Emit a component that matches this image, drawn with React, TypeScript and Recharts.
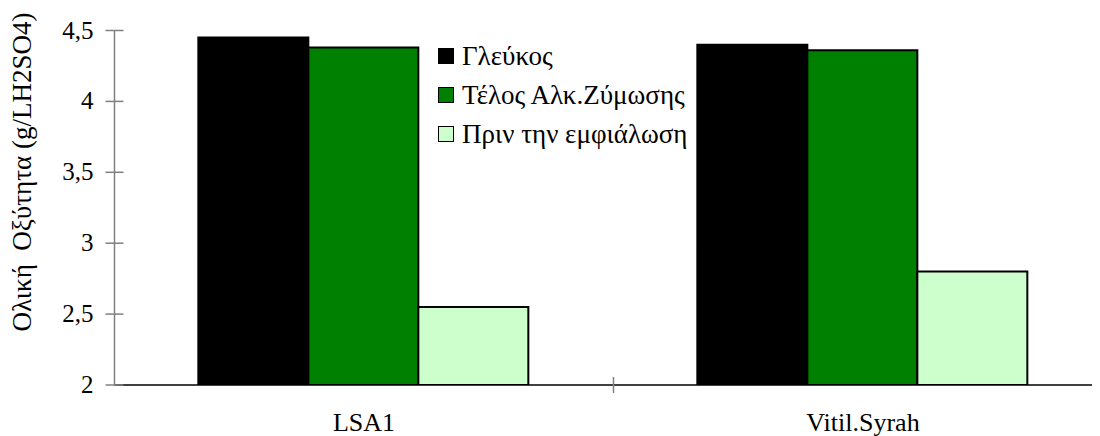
import { BarChart, Bar, XAxis, YAxis, Legend } from "recharts";

const categories = ["LSA1", "Vitil.Syrah"];
const glefkos = [4.45, 4.4];
const telosZymosis = [4.38, 4.36];
const prinEmfialosi = [2.55, 2.8];
const yTicks = [2, 2.5, 3, 3.5, 4, 4.5];

const seriesNames = ["Γλεύκος", "Τέλος Αλκ.Ζύμωσης", "Πριν την εμφιάλωση"];
const seriesColors = ["#000000", "#008000", "#CCFFCC"];

const data = categories.map((name, i) => ({
  name,
  s0: glefkos[i],
  s1: telosZymosis[i],
  s2: prinEmfialosi[i],
}));

const FONT = "'Times New Roman', 'Liberation Serif', 'DejaVu Serif', serif";
const AXIS_X = 106.5;
const PLOT_W = 998;

function YTick(props: any) {
  const { y, payload } = props;
  return (
    <g>
      <line x1={AXIS_X - 9} x2={AXIS_X + 9} y1={y} y2={y} stroke="#808080" strokeWidth={1.5} />
      <text x={AXIS_X - 21} y={y} dy={8} textAnchor="end" fontSize={25} style={{ fontFamily: FONT }} fill="#000">
        {String(payload.value).replace(".", ",")}
      </text>
    </g>
  );
}

function XTick(props: any) {
  const { x, y, payload, index } = props;
  const half = PLOT_W / categories.length / 2;
  return (
    <g>
      {index === 0 && (
        <line x1={x + half} x2={x + half} y1={y - 8} y2={y + 8} stroke="#808080" strokeWidth={1.5} />
      )}
      <text x={x} y={y} dy={46} textAnchor="middle" fontSize={26} style={{ fontFamily: FONT }} fill="#000">
        {payload.value}
      </text>
    </g>
  );
}

function LegendBox() {
  return (
    <div style={{ fontFamily: FONT, fontSize: 27, color: "#000", whiteSpace: "nowrap" }}>
      {seriesNames.map((n, i) => (
        <div key={n} style={{ display: "flex", alignItems: "center", height: 39 }}>
          <span
            style={{
              display: "inline-block",
              width: 14,
              height: 14,
              background: seriesColors[i],
              border: "1.5px solid #000",
              marginRight: 8,
            }}
          />
          <span>{n}</span>
        </div>
      ))}
    </div>
  );
}

export default function App() {
  return (
    <div style={{ width: 1092, height: 428, overflow: "hidden", fontFamily: FONT }}>
      <BarChart
        width={AXIS_X + PLOT_W}
        height={428}
        data={data}
        margin={{ top: 22.5, right: 0, bottom: 6, left: 0 }}
        barCategoryGap="16.8%"
        barGap={0}
      >
        <XAxis
          dataKey="name"
          height={45}
          axisLine={{ stroke: "#000", strokeWidth: 1.5 }}
          tickLine={false}
          tickSize={0}
          tickMargin={0}
          tick={<XTick />}
          interval={0}
        />
        <YAxis
          width={AXIS_X}
          domain={[2, 4.5]}
          ticks={yTicks}
          allowDataOverflow
          axisLine={{ stroke: "#808080", strokeWidth: 1.5 }}
          tickLine={false}
          tick={<YTick />}
          label={{
            content: () => (
              <text
                transform="translate(23,164) rotate(-90)"
                textAnchor="middle"
                fontSize={27}
                fill="#000"
                style={{ whiteSpace: "pre", fontFamily: FONT }}
              >
                {"Ολική  Οξύτητα (g/LH2SO4)"}
              </text>
            ),
          }}
        />
        <Legend
          layout="vertical"
          align="center"
          verticalAlign="middle"
          content={<LegendBox />}
          wrapperStyle={{ position: "absolute", left: 430, top: 28.5, width: 340 }}
        />
        {["s0", "s1", "s2"].map((k, i) => (
          <Bar
            key={k}
            dataKey={k}
            name={seriesNames[i]}
            fill={seriesColors[i]}
            stroke="#000"
            strokeWidth={2}
            isAnimationActive={false}
          />
        ))}
      </BarChart>
    </div>
  );
}
